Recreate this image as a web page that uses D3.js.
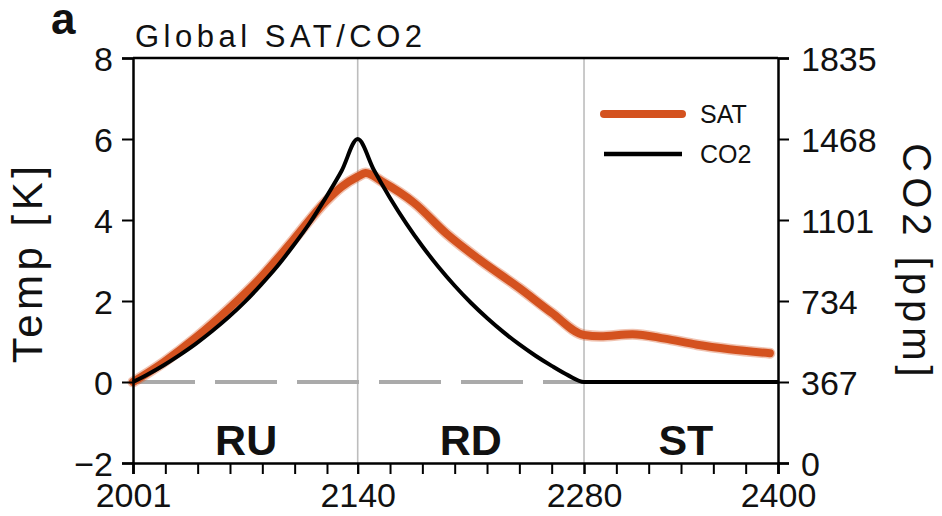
<!DOCTYPE html>
<html>
<head>
<meta charset="utf-8">
<script src="https://cdn.jsdelivr.net/npm/d3@7"></script>
<style>
  html, body { margin: 0; padding: 0; background: #fff; }
  svg { display: block; }
  text { font-family: "Liberation Sans", Arial, sans-serif; fill: #111; }
</style>
</head>
<body>
<svg id="chart" width="942" height="516"></svg>
<script>
// ---------------- data ----------------
const satYears = [2001, 2020, 2040, 2060, 2080, 2100, 2120, 2130, 2140, 2145, 2155, 2175, 2195, 2215, 2240, 2260, 2280, 2290, 2310, 2330, 2350, 2370, 2395];
const satValues = [0, 0.49, 1.10, 1.80, 2.58, 3.50, 4.45, 4.82, 5.07, 5.16, 4.95, 4.42, 3.66, 3.03, 2.32, 1.71, 1.16, 1.13, 1.18, 1.07, 0.92, 0.81, 0.71];

const co2Years = [2001, 2010, 2020, 2030, 2040, 2050, 2060, 2070, 2080, 2090, 2100, 2110, 2120, 2130, 2140,
                  2150, 2160, 2170, 2180, 2190, 2200, 2210, 2220, 2230, 2240, 2250, 2260, 2270, 2280, 2400];
const co2Values = [367, 401, 443, 490, 541, 598, 660, 729, 806, 889, 983, 1084, 1199, 1323, 1468,
                   1328, 1201, 1086, 982, 888, 803, 726, 657, 594, 537, 486, 440, 398, 367, 367];

const xTickLabels = [2001, 2140, 2280, 2400];
const xMinorTicks = [2001, 2021, 2041, 2061, 2081, 2101, 2121, 2140, 2160, 2180, 2200, 2220, 2240, 2260, 2280, 2300, 2320, 2340, 2360, 2380, 2400];
const tempTicks = [-2, 0, 2, 4, 6, 8];
const co2Ticks = [0, 367, 734, 1101, 1468, 1835];
const phaseBounds = [2140, 2280];
const phaseLabels = [{name: "RU", year: 2071}, {name: "RD", year: 2210}, {name: "ST", year: 2343}];
const legendItems = [{name: "SAT", key: "sat"}, {name: "CO2", key: "co2"}];

// ---------------- layout ----------------
const svg = d3.select("#chart");
const L = 133, R = 778, T = 58, B = 463;
const orange = "#d4521f";

const x = d3.scaleLinear().domain([2001, 2400]).range([L, R]);
const yT = d3.scaleLinear().domain([-2, 8]).range([B, T]);
const yC = d3.scaleLinear().domain([0, 1835]).range([B, T]);

const g = svg.append("g");

// phase boundary lines
g.selectAll(".phase").data(phaseBounds).enter().append("line")
  .attr("x1", d => x(d)).attr("x2", d => x(d))
  .attr("y1", T).attr("y2", B)
  .attr("stroke", "#bdbdbd").attr("stroke-width", 1.6);

// zero dashed line
g.append("line")
  .attr("x1", x(2001)).attr("x2", x(2400))
  .attr("y1", yT(0)).attr("y2", yT(0))
  .attr("stroke", "#aaaaaa").attr("stroke-width", 4)
  .attr("stroke-dasharray", "62,20");

// SAT line (halo + main)
const satData = satYears.map((yr, i) => [yr, satValues[i]]);
const satLine = d3.line().x(d => x(d[0])).y(d => yT(d[1])).curve(d3.curveMonotoneX);
g.append("path").datum(satData).attr("d", satLine)
  .attr("fill", "none").attr("stroke", orange).attr("stroke-opacity", 0.35)
  .attr("stroke-width", 11).attr("stroke-linecap", "round").attr("stroke-linejoin", "round");
g.append("path").datum(satData).attr("d", satLine)
  .attr("fill", "none").attr("stroke", orange)
  .attr("stroke-width", 8).attr("stroke-linecap", "round").attr("stroke-linejoin", "round");

// CO2 line
const co2Data = co2Years.map((yr, i) => [yr, co2Values[i]]);
const co2Line = d3.line().x(d => x(d[0])).y(d => yC(d[1])).curve(d3.curveMonotoneX);
g.append("path").datum(co2Data).attr("d", co2Line)
  .attr("fill", "none").attr("stroke", "#000")
  .attr("stroke-width", 4).attr("stroke-linejoin", "miter");

// ---------------- axes ----------------
const axisW = 2.5;
// top frame
g.append("line").attr("x1", L).attr("x2", R).attr("y1", T).attr("y2", T)
  .attr("stroke", "#000").attr("stroke-width", axisW);

// bottom axis
const xAxis = d3.axisBottom(x).tickValues(xMinorTicks).tickSize(11).tickFormat("");
const gx = g.append("g").attr("transform", `translate(0,${B})`).call(xAxis);
const xLab = g.append("g").attr("transform", `translate(0,${B})`)
  .call(d3.axisBottom(x).tickValues(xTickLabels).tickSize(11).tickPadding(7).tickFormat(d3.format("d")));

// left axis
const gyl = g.append("g").attr("transform", `translate(${L},0)`)
  .call(d3.axisLeft(yT).tickValues(tempTicks).tickSize(11).tickPadding(9)
    .tickFormat(d => d < 0 ? "\u2212" + Math.abs(d) : d));

// right axis
const gyr = g.append("g").attr("transform", `translate(${R},0)`)
  .call(d3.axisRight(yC).tickValues(co2Ticks).tickSize(11).tickPadding(12).tickFormat(d3.format("d")));

[gx, xLab, gyl, gyr].forEach(a => {
  a.select(".domain").attr("stroke", "#000").attr("stroke-width", axisW);
  a.selectAll(".tick line").attr("stroke", "#000").attr("stroke-width", 2);
  a.selectAll(".tick text").style("font-family", "'Liberation Sans', Arial, sans-serif")
    .style("font-size", "34px").attr("fill", "#111");
});
xLab.select(".domain").remove();
xLab.selectAll(".tick text").attr("dy", "0.76em");
gyl.selectAll(".tick text").attr("dy", "0.36em");
gyr.selectAll(".tick text").attr("dy", "0.36em");

// ---------------- text ----------------
svg.append("text").attr("x", 51).attr("y", 34)
  .style("font-size", "44px").style("font-weight", "bold").text("a");

svg.append("text").attr("x", 135).attr("y", 47)
  .style("font-size", "31px").style("letter-spacing", "4.5px").text("Global SAT/CO2");

svg.append("text")
  .attr("transform", `translate(42,${(T + B) / 2 + 2}) rotate(-90)`)
  .attr("text-anchor", "middle")
  .style("font-size", "42px").style("letter-spacing", "4.5px").text("Temp [K]");

svg.append("text")
  .attr("transform", `translate(903,${(T + B) / 2 + 2}) rotate(90)`)
  .attr("text-anchor", "middle")
  .style("font-size", "40px").style("letter-spacing", "5px").text("CO2 [ppm]");

g.selectAll(".phaselab").data(phaseLabels).enter().append("text")
  .attr("x", d => x(d.year)).attr("y", 455)
  .attr("text-anchor", "middle")
  .style("font-size", "43px").style("font-weight", "bold")
  .text(d => d.name);

// legend
const leg = svg.append("g");
legendItems.forEach((it, i) => {
  const yy = 114 + i * 40;
  leg.append("line").attr("x1", 604).attr("x2", 682).attr("y1", yy).attr("y2", yy)
    .attr("stroke", it.key === "sat" ? orange : "#000")
    .attr("stroke-width", it.key === "sat" ? 8 : 4.5)
    .attr("stroke-linecap", it.key === "sat" ? "round" : "butt");
  leg.append("text").attr("x", 700).attr("y", yy + 9)
    .style("font-size", "25px").text(it.name);
});
</script>
</body>
</html>
